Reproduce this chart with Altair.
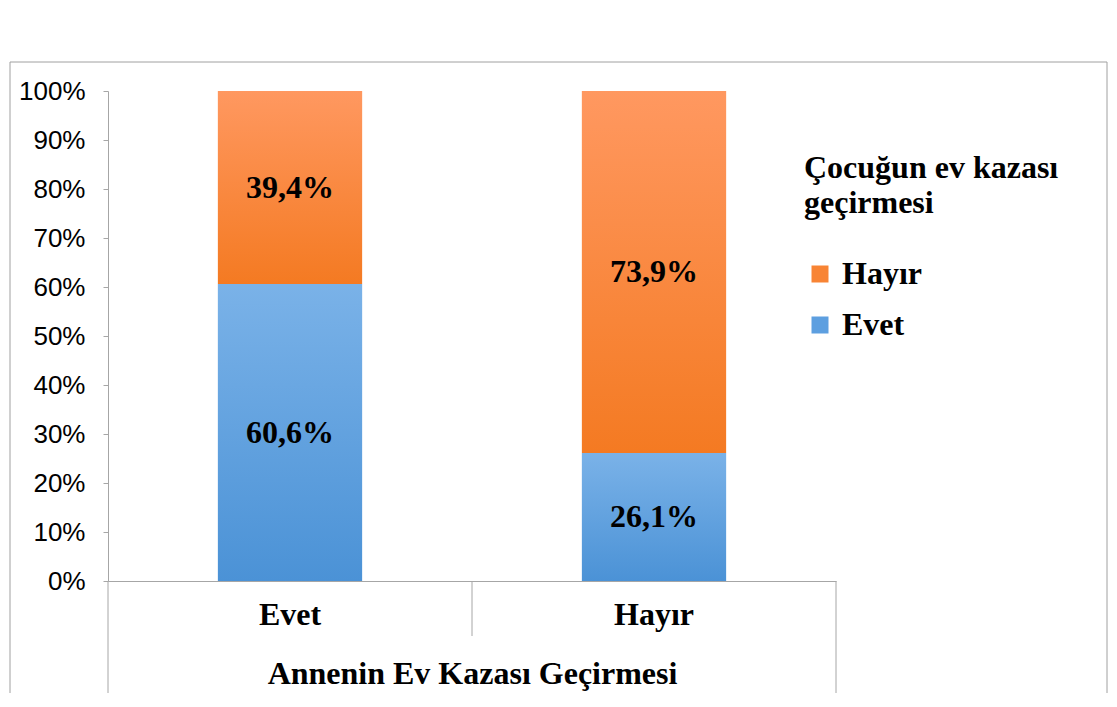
import altair as alt
import pandas as pd

# Data
categories = ["Evet", "Hayır"]          # Annenin Ev Kazası Geçirmesi (x categories)
series_names = ["Evet", "Hayır"]        # Çocuğun ev kazası geçirmesi (stack series)
evet_values = [60.6, 26.1]              # % Evet in each category
hayir_values = [39.4, 73.9]             # % Hayır in each category
y_ticks = [0, 10, 20, 30, 40, 50, 60, 70, 80, 90, 100]

rows = []
for i, c in enumerate(categories):
    rows.append({"cat": c, "series": series_names[0], "value": evet_values[i], "order": 0})
    rows.append({"cat": c, "series": series_names[1], "value": hayir_values[i], "order": 1})
df = pd.DataFrame(rows)
df["label"] = df["value"].map(lambda v: f"{v:.1f}".replace(".", ",") + "%")

SERIF = "Liberation Serif"
SANS = "Liberation Sans"
ORANGE = "#f88434"
BLUE = "#5d9fe0"
GRID_GRAY = "#a6a6a6"

orange_grad = alt.Gradient(
    gradient="linear", x1=0, x2=0, y1=0, y2=1,
    stops=[alt.GradientStop(color="#ff9860", offset=0),
           alt.GradientStop(color="#f47a22", offset=1)],
)
blue_grad = alt.Gradient(
    gradient="linear", x1=0, x2=0, y1=0, y2=1,
    stops=[alt.GradientStop(color="#7ab2e8", offset=0),
           alt.GradientStop(color="#4b92d6", offset=1)],
)

x_enc = alt.X(
    "cat:N", sort=categories,
    scale=alt.Scale(paddingInner=0.604, paddingOuter=0.302),
    axis=alt.Axis(
        title="Annenin Ev Kazası Geçirmesi", labelAngle=0,
        labelFont=SERIF, labelFontSize=32, labelFontWeight="bold", labelColor="black",
        titleFont=SERIF, titleFontSize=32, titleFontWeight="bold", titleColor="black",
        titlePadding=28,
        domainColor=GRID_GRAY, ticks=False, labelPadding=18,
    ),
)
y_enc = alt.Y(
    "y0:Q", scale=alt.Scale(domain=[0, 100]),
    axis=alt.Axis(
        title=None, values=y_ticks, labelExpr="datum.value + '%'",
        labelFont=SANS, labelFontSize=26, labelColor="black",
        domainColor=GRID_GRAY, tickColor=GRID_GRAY, tickSize=5, labelPadding=18,
        grid=False,
    ),
)

base = alt.Chart(df).transform_stack(
    stack="value", groupby=["cat"], as_=["y0", "y1"],
    sort=[alt.SortField("order", order="ascending")],
)

solid = base.mark_bar().encode(
    x=x_enc, y=y_enc, y2="y1:Q",
    color=alt.Color(
        "series:N",
        scale=alt.Scale(domain=["Hayır", "Evet"], range=[ORANGE, BLUE]),
        legend=alt.Legend(
            title=["Çocuğun ev kazası", "geçirmesi"], orient="none",
            legendX=696, legendY=62,
            titleFont=SERIF, titleFontSize=32, titleFontWeight="bold", titleColor="black",
            titleLineHeight=35, titleLimit=500, titlePadding=38,
            labelFont=SERIF, labelFontSize=32, labelFontWeight="bold", labelColor="black",
            labelOffset=6, symbolType="square", symbolSize=289, symbolStrokeWidth=0,
            rowPadding=19, labelLimit=300,
        ),
    ),
)

orange_bars = base.transform_filter(alt.datum.series == "Hayır").mark_bar(fill=orange_grad).encode(
    x=x_enc, y=y_enc, y2="y1:Q"
)
blue_bars = base.transform_filter(alt.datum.series == "Evet").mark_bar(fill=blue_grad).encode(
    x=x_enc, y=y_enc, y2="y1:Q"
)

labels = base.transform_calculate(mid="(datum.y0 + datum.y1) / 2").mark_text(
    font=SERIF, fontSize=32, fontWeight="bold", color="black", baseline="middle"
).encode(x=x_enc, y=alt.Y("mid:Q"), text="label:N")

# decorative frame and category divider lines (Excel multi-level axis look)
one = pd.DataFrame({"k": [0]})
frame = alt.Chart(one).mark_rect(fill="transparent", stroke="#a0a0a0", strokeWidth=1).encode(
    x=alt.value(-98), x2=alt.value(999), y=alt.value(-29), y2=alt.value(640)
)
left_line = alt.Chart(one).mark_rule(color=GRID_GRAY).encode(
    x=alt.value(0), y=alt.value(490), y2=alt.value(604)
)
mid_line = alt.Chart(one).mark_rule(color=GRID_GRAY).encode(
    x=alt.value(364), y=alt.value(490), y2=alt.value(545)
)
right_line = alt.Chart(one).mark_rule(color=GRID_GRAY).encode(
    x=alt.value(728), y=alt.value(490), y2=alt.value(604)
)

chart = alt.layer(solid, orange_bars, blue_bars, labels, frame, left_line, mid_line, right_line).properties(
    width=728, height=490,
    autosize=alt.AutoSizeParams(type="none"),
    padding={"left": 100, "top": 83, "right": 273, "bottom": 112},
).configure_view(stroke="transparent")

chart.save("out.html", embed_options={"renderer": "svg", "actions": False})
